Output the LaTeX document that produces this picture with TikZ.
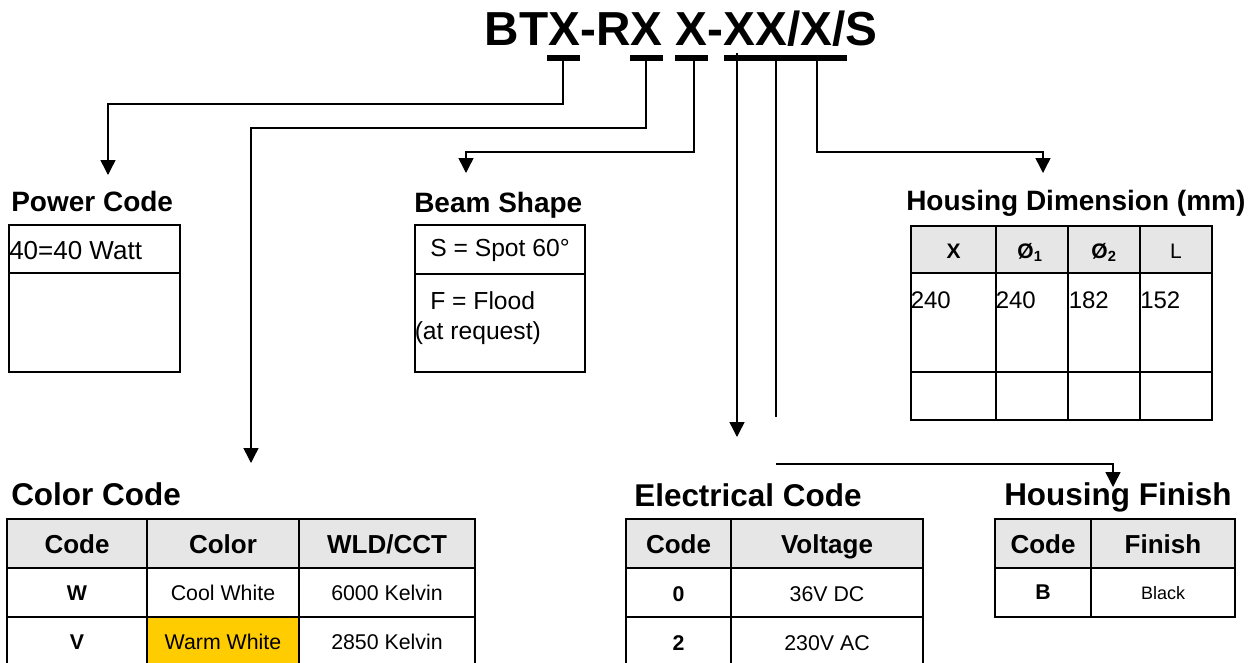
\documentclass[tikz,border=0pt]{standalone}
\usepackage{fontspec}
\setmainfont{Liberation Sans}
\usetikzlibrary{arrows.meta}
\usetikzlibrary{math}
\definecolor{hdrgray}{HTML}{E6E6E6}
\definecolor{warmyellow}{HTML}{FFCC00}
\newcommand{\fsz}[1]{\fontsize{#1}{#1}\selectfont}
\tikzset{link/.style={line width=1.1pt},
	linkarrow/.style={link, -{Triangle[length=11.25pt,width=11.25pt]}},
	tblline/.style={line width=1.5pt, line cap=rect},
	heading/.style={anchor=base west, inner sep=0pt, font=\bfseries\fsz{21pt}},
	bigheading/.style={anchor=base west, inner sep=0pt, font=\bfseries\fsz{23.6pt}},
	txt/.style={anchor=base west, inner sep=0pt, font=\fsz{18.5pt}},
	cell/.style={anchor=base, inner sep=0pt, font=\fsz{16pt}},
	hcell/.style={anchor=base, inner sep=0pt, font=\bfseries\fsz{19.5pt}}}

\begin{document}
\begin{tikzpicture}[x=0.75pt,y=-0.75pt]
	\useasboundingbox (0,0) rectangle (1258,662);
	\tikzmath{\rowtop=519; \rowhead=567.5; \rowone=617; \rowend=690;}
	% part number with underlined fields
	\node[anchor=base west, inner sep=0pt, font=\bfseries\fsz{35.8pt}] (part) at (484.6,45) {BTX-RX X-XX/X/S};
	\foreach \a/\b in {547/580, 630/663, 675/708, 724/847}
		\fill (\a,55) rectangle (\b,61);
	\coordinate (pc) at (563,61);
	\coordinate (cc) at (646,61);
	\coordinate (bs) at (694,61);
	\coordinate (ec) at (737,53);
	\coordinate (hf) at (776,61);
	\coordinate (hd) at (817,61);
	\coordinate (pctip) at (108,175);
	\coordinate (cctip) at (251,463);
	\coordinate (bstip) at (466,173);
	\coordinate (ectip) at (737,437);
	\coordinate (hfend) at (776,417);
	\coordinate (hfstart) at (776,464);
	\coordinate (hftip) at (1113,487);
	\coordinate (hdtip) at (1043,173);
	\draw[linkarrow] (pc) -- ++(0,43) -| (pctip);
	\draw[linkarrow] (cc) -- ++(0,67) -| (cctip);
	\draw[linkarrow] (bs) -- ++(0,91) -| (bstip);
	\draw[linkarrow] (ec) -- (ectip);
	\draw[link] (hf) -- (hfend);
	\draw[linkarrow] (hfstart) -| (hftip);
	\draw[linkarrow] (hd) -- ++(0,91) -| (hdtip);

	% power code
	\node[heading] (pwr) at (11,211) {Power Code};
	\draw[tblline] (9,225) rectangle (180,372);
	\draw[tblline] (9,273) -- (180,273);
	\node[txt, font=\fsz{19.5pt}] (pwra) at (9,259) {40=40 Watt};

	% beam shape
	\node[heading] (beam) at (414,212) {Beam Shape};
	\draw[tblline] (415,225) rectangle (585,372);
	\draw[tblline] (415,274) -- (585,274);
	\node[txt] (beama) at (430,256) {S = Spot 60°};
	\node[txt] (beamb) at (430,309) {F = Flood};
	\node[txt] (beamc) at (414.5,339) {(at request)};

	% housing dimension
	\node[heading] (dim) at (906,210) {Housing Dimension (mm)};
	\fill[hdrgray] (911,226) rectangle (1212,273);
	\foreach \x in {911,996,1068,1140,1212}
		\draw[tblline] (\x,226) -- (\x,420);
	\foreach \y in {226,273,372,420}
		\draw[tblline] (911,\y) -- (1212,\y);
	\node[hcell, font=\bfseries\fsz{15.75pt}] (dimx) at (953.5,258) {X};
	\node[hcell, font=\bfseries\fsz{15.75pt}] (dimda) at (1030,258) {Ø\textsubscript{1}};
	\node[hcell, font=\bfseries\fsz{15.75pt}] (dimdb) at (1104,258) {Ø\textsubscript{2}};
	\node[hcell, font=\fsz{15.75pt}] (diml) at (1176,258) {L};
	\foreach \x/\v [count=\i] in {910.5/240, 995.5/240, 1068.5/182, 1140/152}
		\node[txt, font=\fsz{18pt}] (dimv\i) at (\x,308) {\v};

	% color code
	\node[bigheading] (color) at (11,505) {Color Code};
	\fill[hdrgray] (7,\rowtop) rectangle (475,\rowhead);
	\fill[warmyellow] (147,\rowone) rectangle (299,\rowend);
	\foreach \x in {7,147,299,475}
		\draw[tblline] (\x,\rowtop) -- (\x,\rowend);
	\foreach \y in {\rowtop,\rowhead,\rowone}
		\draw[tblline] (7,\y) -- (475,\y);
	\node[hcell] (colh1) at (77,553) {Code};
	\node[hcell] (colh2) at (223,553) {Color};
	\node[hcell] (colh3) at (387,553) {WLD/CCT};
	\node[cell, font=\bfseries\fsz{16pt}] (cola1) at (77,600) {W};
	\node[cell] (cola2) at (223,600) {Cool White};
	\node[cell] (cola3) at (387,600) {6000 Kelvin};
	\node[cell, font=\bfseries\fsz{16pt}] (colb1) at (77,649) {V};
	\node[cell] (colb2) at (223,649) {Warm White};
	\node[cell] (colb3) at (387,649) {2850 Kelvin};

	% electrical code
	\node[bigheading] (elec) at (634,506) {Electrical Code};
	\fill[hdrgray] (626,\rowtop) rectangle (923,\rowhead);
	\foreach \x in {626,731,923}
		\draw[tblline] (\x,\rowtop) -- (\x,\rowend);
	\foreach \y in {\rowtop,\rowhead,\rowone}
		\draw[tblline] (626,\y) -- (923,\y);
	\node[hcell] (elech1) at (678.5,553) {Code};
	\node[hcell] (elech2) at (827,553) {Voltage};
	\node[cell, font=\bfseries\fsz{16pt}] (eleca1) at (678.5,601) {0};
	\node[cell] (eleca2) at (827,601) {36V DC};
	\node[cell, font=\bfseries\fsz{16pt}] (elecb1) at (678.5,650) {2};
	\node[cell] (elecb2) at (827,650) {230V AC};

	% housing finish
	\node[bigheading] (fin) at (1004,505) {Housing Finish};
	\fill[hdrgray] (995,\rowtop) rectangle (1235,\rowhead);
	\foreach \x in {995,1091,1235}
		\draw[tblline] (\x,\rowtop) -- (\x,\rowone);
	\foreach \y in {\rowtop,\rowhead,\rowone}
		\draw[tblline] (995,\y) -- (1235,\y);
	\node[hcell] (finh1) at (1043,553) {Code};
	\node[hcell] (finh2) at (1163,553) {Finish};
	\node[cell, font=\bfseries\fsz{16pt}] (fina1) at (1043,599) {B};
	\node[cell, font=\fsz{13.5pt}] (fina2) at (1163,599) {Black};
\end{tikzpicture}
\end{document}
